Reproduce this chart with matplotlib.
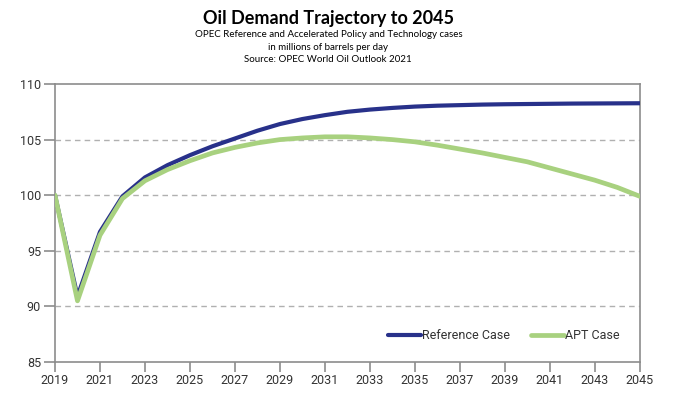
import numpy as np
import matplotlib.pyplot as plt

years = list(range(2019, 2046))

reference_case = [100.0, 90.9, 96.7, 99.9, 101.6, 102.7, 103.6, 104.4, 105.1, 105.8,
                  106.4, 106.85, 107.2, 107.5, 107.7, 107.85, 107.97, 108.05, 108.1, 108.15,
                  108.18, 108.2, 108.22, 108.24, 108.25, 108.26, 108.27]

apt_case = [100.0, 90.5, 96.4, 99.7, 101.3, 102.3, 103.1, 103.8, 104.3, 104.7,
            105.0, 105.15, 105.25, 105.25, 105.15, 105.0, 104.8, 104.5, 104.15, 103.8,
            103.4, 103.0, 102.45, 101.9, 101.35, 100.7, 99.9]

x_ticks = list(range(2019, 2046, 2))
y_ticks = [85, 90, 95, 100, 105, 110]

navy = "#28318a"
green = "#a8d17f"
gray = "#8c8c8c"

fig = plt.figure(figsize=(6.84, 4.01), dpi=100)
ax = fig.add_axes([0.0804, 0.0973, 0.855, 0.6932])

ax.plot(years, reference_case, color=navy, lw=3.0, label="Reference Case", solid_capstyle="round", zorder=3)
ax.plot(years, apt_case, color=green, lw=3.4, label="APT Case", solid_capstyle="round", zorder=4)

ax.set_xlim(2019, 2045)
ax.set_ylim(85, 110)
ax.set_xticks(x_ticks)
ax.set_yticks(y_ticks)

# dashed grid on the inner values only
for v in y_ticks[1:-1]:
    ax.axhline(v, color="#b0b0b0", lw=1.0, ls=(0, (4, 3)), zorder=1)

for s in ax.spines.values():
    s.set_color(gray)
    s.set_linewidth(1.2)

ax.tick_params(axis="y", direction="out", length=8, width=1.2, color=gray, pad=2,
               labelsize=9, labelcolor="#333333")
ax.tick_params(axis="x", direction="out", length=7, width=1.2, color=gray, pad=2,
               labelsize=9, labelcolor="#333333")
for lab in ax.get_xticklabels() + ax.get_yticklabels():
    lab.set_family("Roboto")

leg = ax.legend(loc="lower right", ncol=2, frameon=False,
                handlelength=2.6, handletextpad=0.1, columnspacing=1.7,
                bbox_to_anchor=(0.985, 0.03), prop={"family": "Roboto", "size": 9})
for t in leg.get_texts():
    t.set_color("#333333")

fig.text(0.48, 0.955, "Oil Demand Trajectory to 2045", ha="center", va="center",
         fontsize=13, fontweight="bold", family="Lato")
fig.text(0.48, 0.913, "OPEC Reference and Accelerated Policy and Technology cases",
         ha="center", va="center", fontsize=7, family="Lato")
fig.text(0.48, 0.882, "in millions of barrels per day", ha="center", va="center",
         fontsize=7, family="Lato")
fig.text(0.48, 0.851, "Source: OPEC World Oil Outlook 2021", ha="center", va="center",
         fontsize=7, family="Lato")

plt.savefig("out.png", dpi=100)
